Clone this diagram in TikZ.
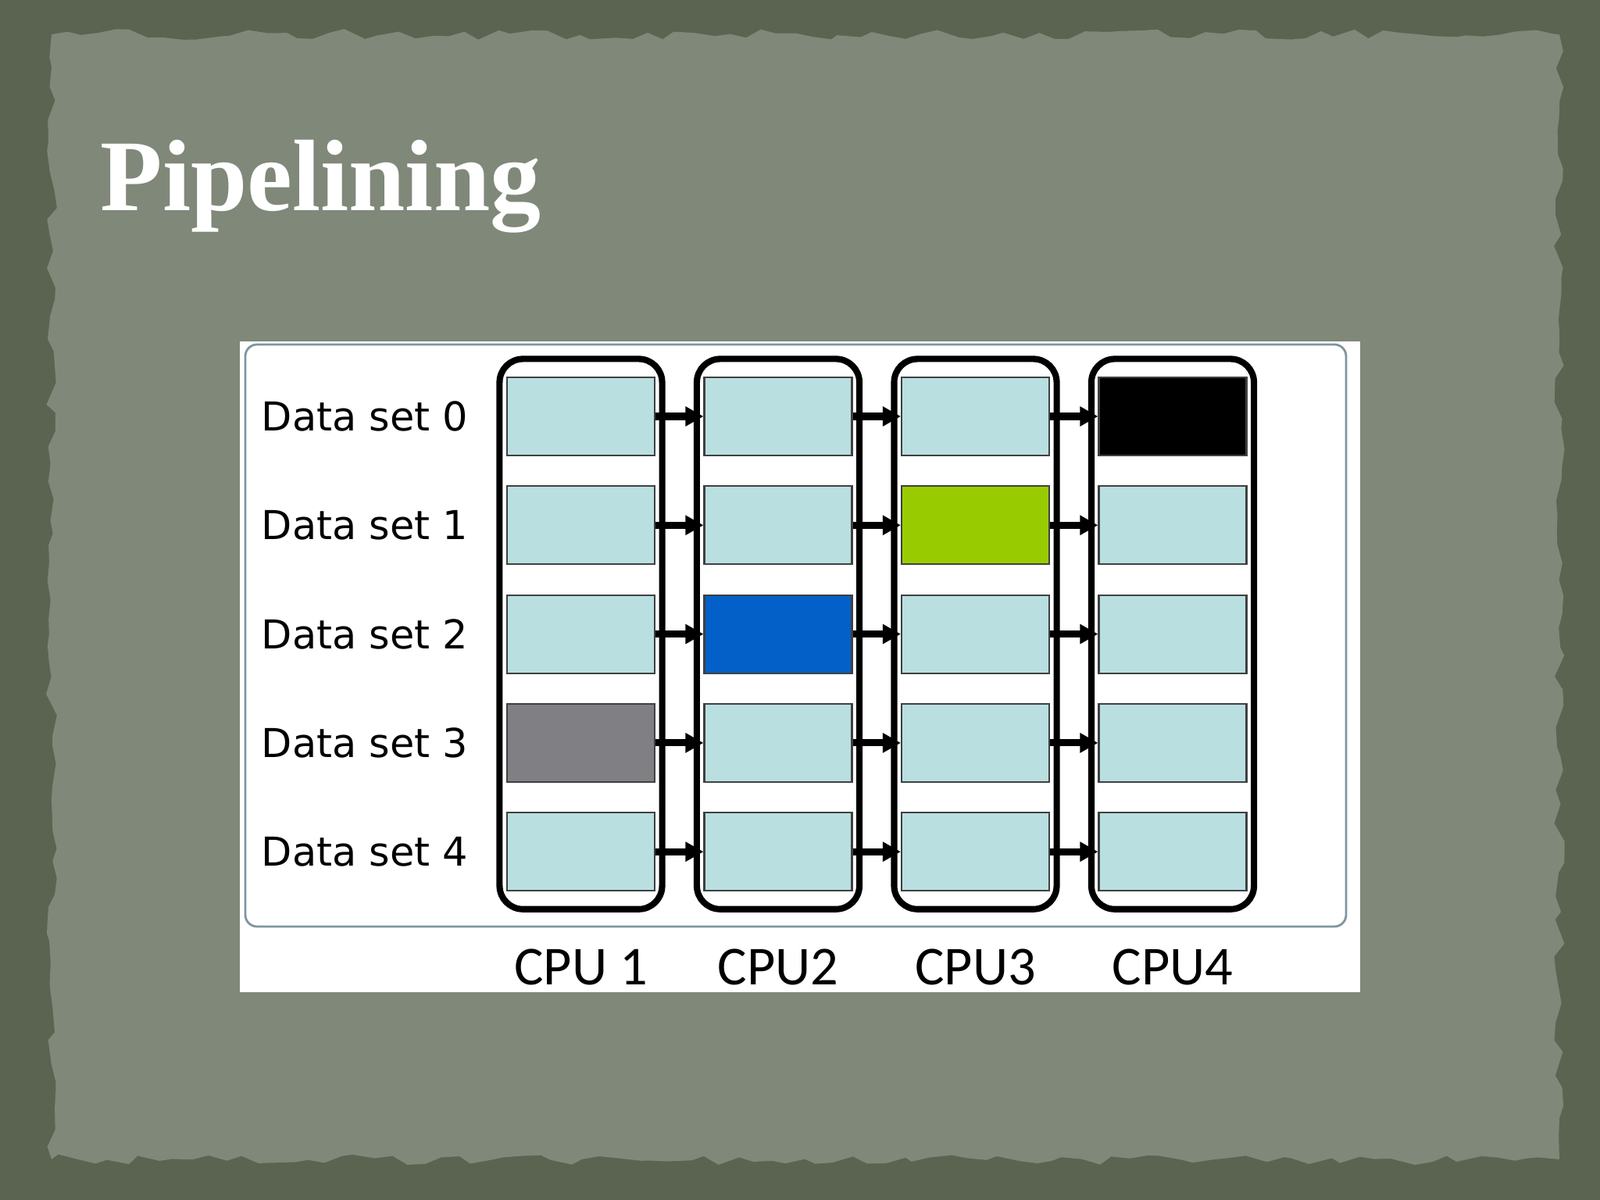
\documentclass[tikz,border=0pt]{standalone}
\usepackage{fontspec}
\setmainfont{Liberation Serif}
\newfontfamily\labfont{DejaVu Sans}
\newfontfamily\cpufont{Carlito}
\usetikzlibrary{positioning,fit,arrows.meta,decorations.pathmorphing}

\definecolor{board}{RGB}{90,100,81}
\definecolor{paper}{RGB}{128,136,121}
\definecolor{cellblue}{RGB}{185,223,225}
\definecolor{slotgray}{RGB}{128,127,131}
\definecolor{slotblue}{RGB}{3,96,200}
\definecolor{slotgreen}{RGB}{153,204,0}
\definecolor{frameline}{RGB}{125,150,160}

\begin{document}
\begin{tikzpicture}[
  title/.style={font=\bfseries\fontsize{37}{40}\selectfont, text=white, inner sep=0},
  cell/.style={draw=black!75, fill=cellblue, line width=0.6pt, inner sep=0,
               minimum width=18.9mm, minimum height=10mm},
  cpu/.style={draw, line width=2.3pt, rounded corners=3mm,
              inner xsep=0.85mm, inner ysep=2.25mm},
  dlab/.style={font=\labfont\fontsize{14.5}{17}\selectfont, inner sep=0},
  clab/.style={font=\cpufont\fontsize{20}{24}\selectfont, inner sep=0},
  arr/.style={-{Triangle[length=2.3mm, width=2.4mm]}, line width=2.6pt},
  node distance=3.72mm and 6.14mm,
]
% backdrop and torn paper
\fill[board] (0,0) rectangle (20.48,15.36);
\useasboundingbox (0,0) rectangle (20.48,15.36);
\fill[paper, decorate, decoration={random steps, segment length=6pt, amplitude=2pt}]
  (0.66,0.52) rectangle (19.96,14.92);
\node[title, anchor=base west] (ttl) at (1.28,12.66) {Pipelining};

% white panel
\fill[white] (3.07,2.66) rectangle (17.41,10.99);
\draw[frameline, line width=0.8pt, rounded corners=1.5mm] (3.14,3.5) rectangle (17.23,10.95);

% data set 0
\node[cell] (r0c1) at (7.435,10.03) {};
\node[cell, right=of r0c1] (r0c2) {};
\node[cell, right=of r0c2] (r0c3) {};
\node[cell, right=of r0c3, fill=black] (r0c4) {};
% data set 1
\node[cell, below=of r0c1] (r1c1) {};
\node[cell, below=of r0c2] (r1c2) {};
\node[cell, below=of r0c3, fill=slotgreen] (r1c3) {};
\node[cell, below=of r0c4] (r1c4) {};
% data set 2
\node[cell, below=of r1c1] (r2c1) {};
\node[cell, below=of r1c2, fill=slotblue] (r2c2) {};
\node[cell, below=of r1c3] (r2c3) {};
\node[cell, below=of r1c4] (r2c4) {};
% data set 3
\node[cell, below=of r2c1, fill=slotgray] (r3c1) {};
\node[cell, below=of r2c2] (r3c2) {};
\node[cell, below=of r2c3] (r3c3) {};
\node[cell, below=of r2c4] (r3c4) {};
% data set 4
\node[cell, below=of r3c1] (r4c1) {};
\node[cell, below=of r3c2] (r4c2) {};
\node[cell, below=of r3c3] (r4c3) {};
\node[cell, below=of r3c4] (r4c4) {};

\node[dlab, left=4.8mm of r0c1] (ds0) {Data set 0};
\node[dlab, left=4.8mm of r1c1] (ds1) {Data set 1};
\node[dlab, left=4.8mm of r2c1] (ds2) {Data set 2};
\node[dlab, left=4.8mm of r3c1] (ds3) {Data set 3};
\node[dlab, left=4.8mm of r4c1] (ds4) {Data set 4};

\node[cpu, fit=(r0c1)(r4c1)] (cpu1) {};
\node[cpu, fit=(r0c2)(r4c2)] (cpu2) {};
\node[cpu, fit=(r0c3)(r4c3)] (cpu3) {};
\node[cpu, fit=(r0c4)(r4c4)] (cpu4) {};

\draw[arr] (r0c1) -- (r0c2);
\draw[arr] (r0c2) -- (r0c3);
\draw[arr] (r0c3) -- (r0c4);
\draw[arr] (r1c1) -- (r1c2);
\draw[arr] (r1c2) -- (r1c3);
\draw[arr] (r1c3) -- (r1c4);
\draw[arr] (r2c1) -- (r2c2);
\draw[arr] (r2c2) -- (r2c3);
\draw[arr] (r2c3) -- (r2c4);
\draw[arr] (r3c1) -- (r3c2);
\draw[arr] (r3c2) -- (r3c3);
\draw[arr] (r3c3) -- (r3c4);
\draw[arr] (r4c1) -- (r4c2);
\draw[arr] (r4c2) -- (r4c3);
\draw[arr] (r4c3) -- (r4c4);

\node[clab, below=4.6mm of cpu1] (lab1) {CPU 1};
\node[clab, below=4.6mm of cpu2] (lab2) {CPU2};
\node[clab, below=4.6mm of cpu3] (lab3) {CPU3};
\node[clab, below=4.6mm of cpu4] (lab4) {CPU4};
\end{tikzpicture}
\end{document}
